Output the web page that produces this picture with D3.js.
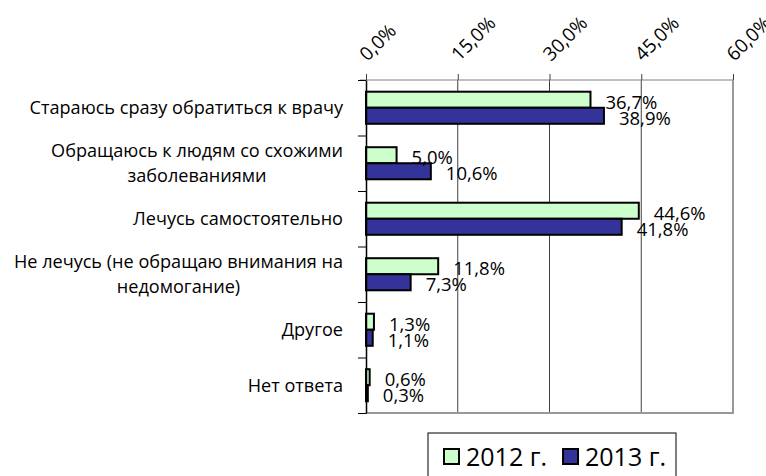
<!DOCTYPE html>
<html>
<head>
<meta charset="utf-8">
<script src="https://cdn.jsdelivr.net/npm/d3@7"></script>
<style>
  body { margin: 0; background: #fff; }
  svg { display: block; font-family: "Open Sans", sans-serif; }
</style>
</head>
<body>
<div id="chart"></div>
<script>
// Categories (top to bottom), each label may have several lines
const categories = [
  ["Стараюсь сразу обратиться к врачу"],
  ["Обращаюсь к людям со схожими", "заболеваниями"],
  ["Лечусь самостоятельно"],
  ["Не лечусь (не обращаю внимания на", "недомогание)"],
  ["Другое"],
  ["Нет ответа"]
];
const series = ["2012 г.", "2013 г."];
const values2012 = [36.7, 5.0, 44.6, 11.8, 1.3, 0.6];
const values2013 = [38.9, 10.6, 41.8, 7.3, 1.1, 0.3];
const xTicks = [0, 15, 30, 45, 60];
const colors = ["#ccffcc", "#333399"];

const W = 766, H = 476;
const plot = {left: 366, right: 733, top: 80, bottom: 413};

const fmt = v => d3.format(".1f")(v).replace(".", ",") + "%";

const svg = d3.select("#chart").append("svg")
  .attr("width", W)
  .attr("height", H);

// Scales
const x = d3.scaleLinear().domain([0, 60]).range([plot.left, plot.right]);
const catIdx = d3.range(categories.length);
const y = d3.scaleBand().domain(catIdx).range([plot.top, plot.bottom]);
const ySub = d3.scaleBand().domain(series).range([0, y.bandwidth()]).paddingOuter(0.73);
const yEdge = d3.scaleLinear().domain([0, categories.length]).range([plot.top, plot.bottom]);

// Gridlines
svg.append("g")
  .selectAll("line")
  .data(xTicks.filter(t => t > 0 && t < 60))
  .join("line")
  .attr("x1", d => x(d)).attr("x2", d => x(d))
  .attr("y1", plot.top).attr("y2", plot.bottom)
  .attr("stroke", "#404040")
  .attr("stroke-width", 1);

// Right and bottom border
svg.append("path")
  .attr("d", `M${plot.right},${plot.top}V${plot.bottom}H${plot.left}`)
  .attr("fill", "none")
  .attr("stroke", "#999")
  .attr("stroke-width", 2);

// Bars
const rows = catIdx.map(i => ({i, vals: [values2012[i], values2013[i]]}));
const g = svg.append("g");
g.selectAll("g.row")
  .data(rows)
  .join("g")
  .attr("class", "row")
  .attr("transform", d => `translate(0,${y(d.i)})`)
  .each(function(d) {
    const row = d3.select(this);
    const items = series.map((s, k) => ({s, k, v: d.vals[k]}));
    row.selectAll("rect")
      .data(items)
      .join("rect")
      .attr("x", x(0))
      .attr("y", e => ySub(e.s))
      .attr("width", e => x(e.v) - x(0))
      .attr("height", ySub.bandwidth())
      .attr("fill", e => colors[e.k])
      .attr("stroke", "#000")
      .attr("stroke-width", 2);
    row.selectAll("text")
      .data(items)
      .join("text")
      .attr("x", e => x(e.v) + 15)
      .attr("y", e => ySub(e.s) + ySub.bandwidth() / 2 + 2.5)
      .attr("dy", "0.35em")
      .style("font-size", "18.5px")
      .attr("fill", "#000")
      .text(e => fmt(e.v));
  });

// Top axis
const topAxis = svg.append("g")
  .attr("transform", `translate(0,${plot.top})`)
  .call(d3.axisTop(x).tickValues(xTicks).tickSize(6).tickSizeOuter(0).tickFormat(fmt));
topAxis.select(".domain").attr("stroke", "#808080").attr("d", `M${plot.left - 6},0H${plot.right}`);
topAxis.selectAll(".tick line").attr("stroke", "#404040");
topAxis.selectAll(".tick text")
  .attr("text-anchor", "start")
  .attr("x", 0).attr("y", 0).attr("dy", 0)
  .attr("transform", "translate(1,-18) rotate(-45)")
  .style("font-size", "19px")
  .style("font-family", "'Open Sans', sans-serif")
  .attr("fill", "#000");

// Left axis (category boundaries)
const leftAxis = svg.append("g")
  .attr("transform", `translate(${plot.left},0)`)
  .call(d3.axisLeft(yEdge).tickValues(d3.range(categories.length + 1)).tickSize(8).tickSizeOuter(0).tickFormat(""));
leftAxis.select(".domain").attr("stroke", "#000").attr("stroke-width", 1.5);
leftAxis.selectAll(".tick line").attr("stroke", "#000");

// Category labels
const labelRight = 343, lineH = 25;
const cat = svg.append("g").style("font-size", "18.1px");
categories.forEach((lines, i) => {
  const cy = y(i) + y.bandwidth() / 2;
  const t = cat.append("g");
  const texts = lines.map((ln, j) => t.append("text")
    .attr("y", cy + (j - (lines.length - 1) / 2) * lineH)
    .attr("dy", "0.35em")
    .attr("text-anchor", "middle")
    .attr("fill", "#000")
    .text(ln));
  const maxW = d3.max(texts, tx => tx.node().getComputedTextLength());
  texts.forEach(tx => tx.attr("x", labelRight - maxW / 2));
});

// Legend
const lg = svg.append("g");
lg.append("rect")
  .attr("x", 428).attr("y", 433)
  .attr("width", 248).attr("height", 50)
  .attr("fill", "#fff").attr("stroke", "#000").attr("stroke-width", 1);
let lx = 444;
series.forEach((s, k) => {
  lg.append("rect")
    .attr("x", lx).attr("y", 449)
    .attr("width", 15).attr("height", 15)
    .attr("fill", colors[k]).attr("stroke", "#000").attr("stroke-width", 2);
  const t = lg.append("text")
    .attr("x", lx + 22).attr("y", 457)
    .attr("dy", "0.35em")
    .style("font-size", "25px")
    .attr("fill", "#000")
    .text(s);
  lx += 22 + t.node().getComputedTextLength() + 16;
});
</script>
</body>
</html>
